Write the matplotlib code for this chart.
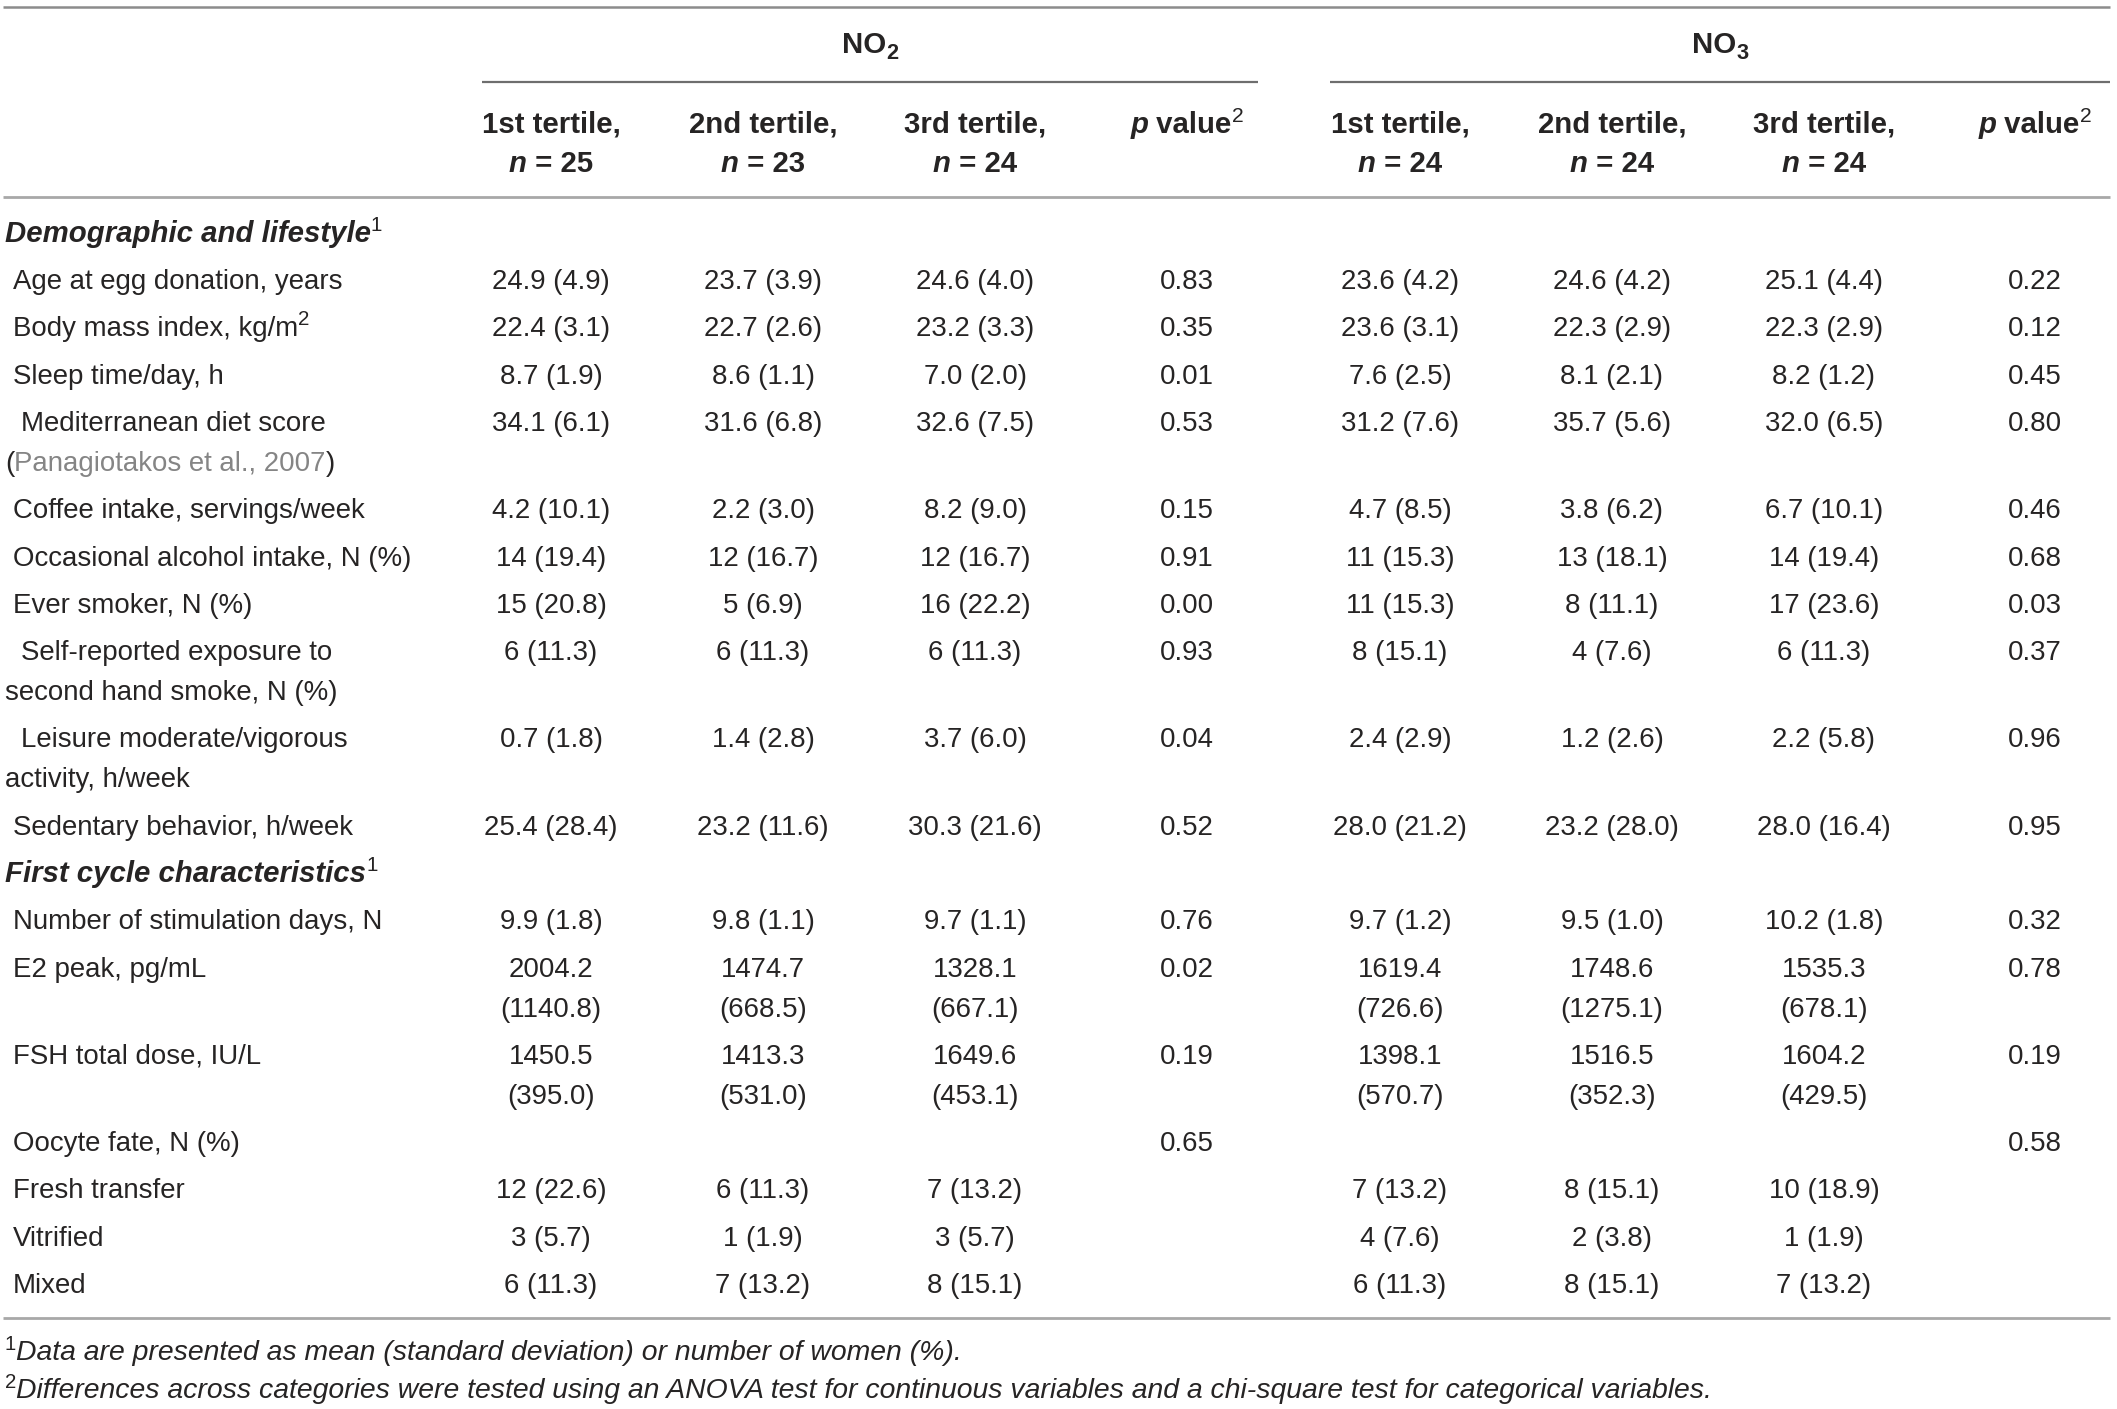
import matplotlib
matplotlib.use("Agg")
import matplotlib.pyplot as plt

plt.rcParams['font.family'] = ['Liberation Sans', 'DejaVu Sans']

# ---- table content ----
groups = ["NO", "NO"]
group_sub = ["2", "3"]
col_head = ["1st tertile,", "2nd tertile,", "3rd tertile,", "p value",
            "1st tertile,", "2nd tertile,", "3rd tertile,", "p value"]
col_n = ["25", "23", "24", "", "24", "24", "24", ""]

sections = ["Demographic and lifestyle", "First cycle characteristics"]
section_before = [0, 10]

row_labels = [
    "Age at egg donation, years",
    "Body mass index, kg/m^2",
    "Sleep time/day, h",
    "Mediterranean diet score\n(Panagiotakos et al., 2007)",
    "Coffee intake, servings/week",
    "Occasional alcohol intake, N (%)",
    "Ever smoker, N (%)",
    "Self-reported exposure to\nsecond hand smoke, N (%)",
    "Leisure moderate/vigorous\nactivity, h/week",
    "Sedentary behavior, h/week",
    "Number of stimulation days, N",
    "E2 peak, pg/mL",
    "FSH total dose, IU/L",
    "Oocyte fate, N (%)",
    "Fresh transfer",
    "Vitrified",
    "Mixed",
]
cited = "Panagiotakos et al., 2007"

no2_t1 = ["24.9 (4.9)", "22.4 (3.1)", "8.7 (1.9)", "34.1 (6.1)", "4.2 (10.1)", "14 (19.4)",
          "15 (20.8)", "6 (11.3)", "0.7 (1.8)", "25.4 (28.4)", "9.9 (1.8)", "2004.2\n(1140.8)",
          "1450.5\n(395.0)", "", "12 (22.6)", "3 (5.7)", "6 (11.3)"]
no2_t2 = ["23.7 (3.9)", "22.7 (2.6)", "8.6 (1.1)", "31.6 (6.8)", "2.2 (3.0)", "12 (16.7)",
          "5 (6.9)", "6 (11.3)", "1.4 (2.8)", "23.2 (11.6)", "9.8 (1.1)", "1474.7\n(668.5)",
          "1413.3\n(531.0)", "", "6 (11.3)", "1 (1.9)", "7 (13.2)"]
no2_t3 = ["24.6 (4.0)", "23.2 (3.3)", "7.0 (2.0)", "32.6 (7.5)", "8.2 (9.0)", "12 (16.7)",
          "16 (22.2)", "6 (11.3)", "3.7 (6.0)", "30.3 (21.6)", "9.7 (1.1)", "1328.1\n(667.1)",
          "1649.6\n(453.1)", "", "7 (13.2)", "3 (5.7)", "8 (15.1)"]
no2_p = ["0.83", "0.35", "0.01", "0.53", "0.15", "0.91", "0.00", "0.93", "0.04", "0.52",
         "0.76", "0.02", "0.19", "0.65", "", "", ""]
no3_t1 = ["23.6 (4.2)", "23.6 (3.1)", "7.6 (2.5)", "31.2 (7.6)", "4.7 (8.5)", "11 (15.3)",
          "11 (15.3)", "8 (15.1)", "2.4 (2.9)", "28.0 (21.2)", "9.7 (1.2)", "1619.4\n(726.6)",
          "1398.1\n(570.7)", "", "7 (13.2)", "4 (7.6)", "6 (11.3)"]
no3_t2 = ["24.6 (4.2)", "22.3 (2.9)", "8.1 (2.1)", "35.7 (5.6)", "3.8 (6.2)", "13 (18.1)",
          "8 (11.1)", "4 (7.6)", "1.2 (2.6)", "23.2 (28.0)", "9.5 (1.0)", "1748.6\n(1275.1)",
          "1516.5\n(352.3)", "", "8 (15.1)", "2 (3.8)", "8 (15.1)"]
no3_t3 = ["25.1 (4.4)", "22.3 (2.9)", "8.2 (1.2)", "32.0 (6.5)", "6.7 (10.1)", "14 (19.4)",
          "17 (23.6)", "6 (11.3)", "2.2 (5.8)", "28.0 (16.4)", "10.2 (1.8)", "1535.3\n(678.1)",
          "1604.2\n(429.5)", "", "10 (18.9)", "1 (1.9)", "7 (13.2)"]
no3_p = ["0.22", "0.12", "0.45", "0.80", "0.46", "0.68", "0.03", "0.37", "0.96", "0.95",
         "0.32", "0.78", "0.19", "0.58", "", "", ""]

footnotes = [
    "Data are presented as mean (standard deviation) or number of women (%).",
    "Differences across categories were tested using an ANOVA test for continuous variables "
    "and a chi-square test for categorical variables.",
]

columns = [no2_t1, no2_t2, no2_t3, no2_p, no3_t1, no3_t2, no3_t3, no3_p]

# ---- layout (pixels) ----
W, H = 2117, 1409
FS = 19.9
FS_B = 21.2
FS_FN = 20.4
PX = 100 / 72
INK = '#262424'
col_x = [551, 763, 975, 1187, 1400, 1612, 1824, 2035]
step, line_h = 47.3, 40
half_cap = 9.7

fig = plt.figure(figsize=(W / 100, H / 100), dpi=100)
ax = fig.add_axes([0, 0, 1, 1])
ax.set_xlim(0, W)
ax.set_ylim(H, 0)
ax.axis('off')
renderer = fig.canvas.get_renderer()


def put(x, y, parts, ha='left'):
    ''' draw a run of differently styled pieces on one baseline '''
    objs = []
    for txt, props in parts:
        props = dict(props)
        rise = props.pop('rise', 0)
        size = props.pop('size', FS)
        color = props.pop('color', INK)
        t = ax.text(0, y - rise, txt, fontsize=size, va='baseline', ha='left',
                    color=color, **props)
        objs.append(t)
    widths = [t.get_window_extent(renderer).width for t in objs]
    x0 = x - sum(widths) / 2 if ha == 'center' else x
    for t, w in zip(objs, widths):
        t.set_x(x0)
        x0 += w


sup = dict(size=FS * 0.74, rise=FS * PX * 0.40)
sub = dict(size=FS_B * 0.74, rise=-FS * PX * 0.24)
bold = dict(fontweight='bold', size=FS_B)
bold_it = dict(fontweight='bold', style='italic', size=FS_B)


def label_parts(text, props=None):
    props = props or {}
    if '^' in text:
        a, b = text.split('^')
        return [(a, props), (b, sup)]
    if text == '(' + cited + ')':
        return [('(', props), (cited, dict(props, color='#858585')), (')', props)]
    return [(text, props)]


# rules
ax.plot([3, 2110], [7, 7], color='#8c8c8c', lw=1.8, solid_capstyle='butt')
ax.plot([482, 1258], [82, 82], color='#6e6e6e', lw=1.6, solid_capstyle='butt')
ax.plot([1330, 2110], [82, 82], color='#6e6e6e', lw=1.6, solid_capstyle='butt')
ax.plot([3, 2110], [197, 197], color='#a8a8a8', lw=2.0, solid_capstyle='butt')

# group headers
for gx, g, s in zip([870, 1720], groups, group_sub):
    put(gx, 43 + half_cap, [(g, bold), (s, dict(sub, fontweight='bold'))], ha='center')

# column headers
for x, h, n in zip(col_x, col_head, col_n):
    if h.startswith('p '):
        put(x, 123 + half_cap, [('p', bold_it), (h[1:], bold),
                                ('2', dict(sup, size=FS_B * 0.72))], ha='center')
    else:
        put(x, 123 + half_cap, [(h, bold)], ha='center')
        put(x, 162 + half_cap, [('n', bold_it), (' = ' + n, bold)], ha='center')

# body
y = 232
for i, lab in enumerate(row_labels):
    if i in section_before:
        name = sections[section_before.index(i)]
        put(5, y + half_cap, [(name, bold_it), ('1', sup)])
        y += step
    lines = lab.split('\n')
    if len(lines) == 1:
        put(13, y + half_cap, label_parts(lines[0]))
    else:
        put(21, y + half_cap, label_parts(lines[0]))
        for k, ln in enumerate(lines[1:], 1):
            put(5, y + k * line_h + half_cap, label_parts(ln))
    for x, col in zip(col_x, columns):
        for k, ln in enumerate(col[i].split('\n')):
            if ln:
                put(x, y + k * line_h + half_cap, [(ln, {})], ha='center')
    n_lines = max([len(lines)] + [len(c[i].split('\n')) for c in columns])
    y += step + line_h * (n_lines - 1)

ax.plot([3, 2110], [1318, 1318], color='#a8a8a8', lw=2.0, solid_capstyle='butt')

# footnotes
for k, fn in enumerate(footnotes):
    put(5, 1350 + k * 38 + half_cap,
        [(str(k + 1), dict(sup, size=FS_FN * 0.72, rise=FS * PX * 0.36)),
         (fn, dict(style='italic', size=FS_FN))])

fig.savefig('out.png', dpi=100)
